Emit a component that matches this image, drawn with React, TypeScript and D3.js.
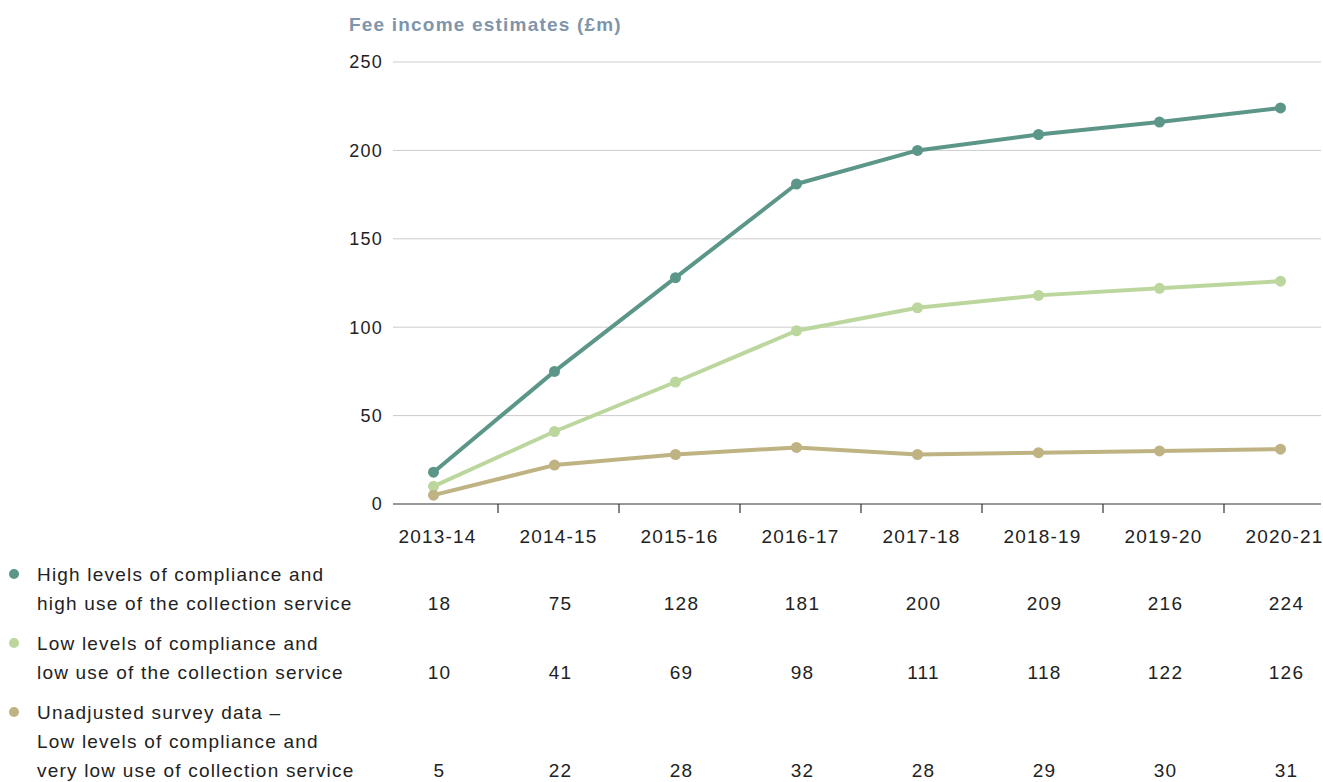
import React from "react";
import * as d3 from "d3";

const categories = ["2013-14", "2014-15", "2015-16", "2016-17", "2017-18", "2018-19", "2019-20", "2020-21"];
const highValues = [18, 75, 128, 181, 200, 209, 216, 224];
const lowValues = [10, 41, 69, 98, 111, 118, 122, 126];
const surveyValues = [5, 22, 28, 32, 28, 29, 30, 31];
const yTicks = [0, 50, 100, 150, 200, 250];

const seriesNames = [
  ["High levels of compliance and", "high use of the collection service"],
  ["Low levels of compliance and", "low use of the collection service"],
  ["Unadjusted survey data –", "Low levels of compliance and", "very low use of collection service"],
];
const seriesValues = [highValues, lowValues, surveyValues];
const seriesColors = ["#5b9689", "#bcd79e", "#bfb383"];

const FONT = "'Liberation Sans', Arial, Helvetica, sans-serif";
const LS = 1.2;

export default function App() {
  const W = 1323, H = 782;
  const x = d3.scaleBand<string>().domain(categories).range([377, 1345]).padding(0);
  const bw = x.bandwidth();
  const cx = (c: string) => (x(c) as number) + bw / 2;
  const px = (c: string) => cx(c) - 4;
  const y = d3.scaleLinear().domain([0, 250]).range([504, 62]);
  const gridX0 = 393, gridX1 = 1321;

  const line = d3
    .line<number>()
    .x((_, i) => px(categories[i]))
    .y((d) => y(d));

  const legendTop = 574;
  const lineH = 29;
  const groupGap = 11;
  const groupStarts: number[] = [];
  let cur = legendTop;
  seriesNames.forEach((lines) => {
    groupStarts.push(cur);
    cur += lines.length * lineH + groupGap;
  });

  return (
    <svg width={W} height={H} style={{ position: "absolute", left: 0, top: 0, fontFamily: FONT, letterSpacing: LS }}>
      <rect width={W} height={H} fill="#fff" />
      <text x={349} y={31} fontSize={19} fontWeight="bold" fill="#7f95ab">
        Fee income estimates (£m)
      </text>
      {yTicks.map((t) => (
        <g key={t}>
          {t !== 0 && <line x1={gridX0} x2={gridX1} y1={y(t)} y2={y(t)} stroke="#cccccc" strokeWidth={1} />}
          <text x={383} y={y(t)} dy="0.35em" textAnchor="end" fontSize={18} fill="#222">
            {t}
          </text>
        </g>
      ))}
      <line x1={gridX0} x2={gridX1} y1={y(0)} y2={y(0)} stroke="#333" strokeWidth={1.2} />
      {categories.slice(1).map((c) => (
        <line key={c} x1={x(c) as number} x2={x(c) as number} y1={y(0)} y2={y(0) + 9} stroke="#333" strokeWidth={1.2} />
      ))}
      {categories.map((c) => (
        <text key={c} x={cx(c)} y={543} textAnchor="middle" fontSize={19} fill="#222">
          {c}
        </text>
      ))}
      {seriesValues.map((vals, si) => (
        <g key={si}>
          <path d={line(vals) as string} fill="none" stroke={seriesColors[si]} strokeWidth={4} strokeLinejoin="round" />
          {vals.map((v, i) => (
            <circle key={i} cx={px(categories[i])} cy={y(v)} r={5.5} fill={seriesColors[si]} />
          ))}
        </g>
      ))}
      {seriesNames.map((lines, si) => {
        const top = groupStarts[si];
        const lastY = top + (lines.length - 1) * lineH;
        return (
          <g key={si}>
            <circle cx={14} cy={top} r={5} fill={seriesColors[si]} />
            {lines.map((l, li) => (
              <text key={li} x={37} y={top + li * lineH} dy="0.35em" fontSize={19} fill="#222">
                {l}
              </text>
            ))}
            {seriesValues[si].map((v, i) => (
              <text key={i} x={cx(categories[i]) + 2} y={lastY} dy="0.35em" textAnchor="middle" fontSize={19} fill="#222">
                {v}
              </text>
            ))}
          </g>
        );
      })}
    </svg>
  );
}
